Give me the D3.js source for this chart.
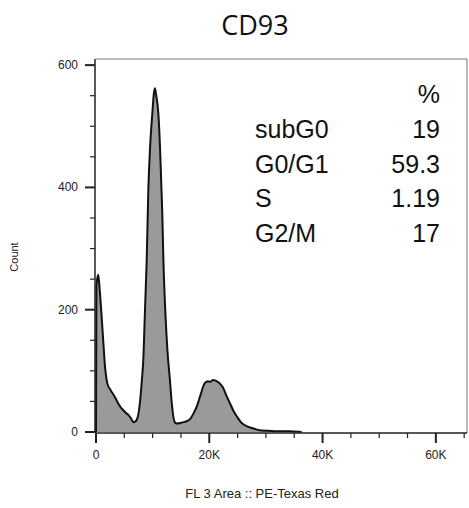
<!DOCTYPE html>
<html>
<head>
<meta charset="utf-8">
<script src="https://cdn.jsdelivr.net/npm/d3@7"></script>
<style>
  body { margin: 0; background: #fff; }
  svg text { font-family: "Liberation Sans", Arial, sans-serif; }
</style>
</head>
<body>
<svg id="chart" width="469" height="508"></svg>
<script>
// histogram, channel in K units / event count
var channel = [0, 0.08, 0.4, 0.7, 1.0, 1.3, 1.6, 1.9, 2.2, 2.5, 2.8, 3.1, 3.4, 3.9, 4.4, 4.8, 5.3, 5.7, 6.2, 6.6, 6.9, 7.2, 7.5, 7.8, 8.1, 8.35, 8.65, 8.95, 9.25, 9.55, 9.95, 10.2, 10.4, 10.6, 11.0, 11.3, 11.5, 11.7, 11.9, 12.2, 12.6, 13.05, 13.4, 13.9, 14.3, 15.0, 15.8, 16.6, 17.2, 17.8, 18.5, 19.2, 19.8, 20.2, 20.65, 21.1, 21.5, 22.0, 22.4, 23.0, 23.65, 24.3, 24.9, 25.6, 26.3, 27.0, 27.5, 28.2, 28.9, 30.5, 32, 34.8, 35.8, 36.3];
var counts = [0, 240, 257, 227, 188, 146, 106, 84, 74, 70, 65, 61, 56, 47, 40, 36, 31, 28, 22, 16, 17, 20, 30, 52, 85, 118, 200, 281, 400, 466, 522, 552, 562, 552, 522, 466, 412, 358, 281, 205, 135, 85, 45, 16, 14, 15, 17, 21, 30, 42, 62, 80, 83, 82, 85, 84, 82, 78, 73, 60, 47, 34, 25, 16, 11, 8, 6.5, 4.5, 3, 2, 1.2, 1, 0.5, 0];

var yMajor = [0, 200, 400, 600];
var xMajor = [0, 20000, 40000, 60000];

var phases = ["subG0", "G0/G1", "S", "G2/M"];
var percents = ["19", "59.3", "1.19", "17"];

var svg = d3.select("#chart");

var x = d3.scaleLinear().domain([0, 65500]).range([96, 467]);
var y = d3.scaleLinear().domain([0, 610]).range([432, 59]);

var pts = channel.map(function(c, i){ return [c * 1000, counts[i]]; });

// frame top/right
svg.append("path")
  .attr("d", "M" + x(0) + "," + y(610) + "H" + x(65500) + "V" + 433)
  .attr("fill", "none")
  .attr("stroke", "#777")
  .attr("stroke-width", 1);

var area = d3.area()
  .x(function(d){ return x(d[0]); })
  .y0(y(0))
  .y1(function(d){ return y(d[1]); })
  .curve(d3.curveMonotoneX);

var line = d3.line()
  .x(function(d){ return x(d[0]); })
  .y(function(d){ return y(d[1]); })
  .curve(d3.curveMonotoneX);

svg.append("path").datum(pts)
  .attr("d", area)
  .attr("fill", "#9a9a9a");

svg.append("path").datum(pts)
  .attr("d", line)
  .attr("fill", "none")
  .attr("stroke", "#111")
  .attr("stroke-width", 2)
  .attr("stroke-linejoin", "round");

// y axis
var yAxis = svg.append("g").attr("transform", "translate(95,0)");
yAxis.append("line").attr("x1", 0).attr("x2", 0).attr("y1", y(610)).attr("y2", 433)
  .attr("stroke", "#222").attr("stroke-width", 1.5);
yAxis.selectAll(".minor").data(d3.range(0, 601, 50)).enter().append("line")
  .attr("x1", function(d){ return yMajor.indexOf(d) >= 0 ? -10 : -5; })
  .attr("x2", 0)
  .attr("y1", function(d){ return y(d); })
  .attr("y2", function(d){ return y(d); })
  .attr("stroke", "#222")
  .attr("stroke-width", function(d){ return yMajor.indexOf(d) >= 0 ? 2 : 1.2; });
yAxis.selectAll(".lbl").data(yMajor).enter().append("text")
  .attr("x", -17)
  .attr("y", function(d){ return y(d) + 4; })
  .attr("text-anchor", "end")
  .attr("font-size", 12)
  .attr("fill", "#222")
  .text(function(d){ return d; });

// x axis
var xAxis = svg.append("g").attr("transform", "translate(0,433)");
xAxis.append("line").attr("x1", 95).attr("x2", x(65500)).attr("y1", 0).attr("y2", 0)
  .attr("stroke", "#222").attr("stroke-width", 1.5);
xAxis.selectAll(".minor").data(d3.range(0, 65001, 5000)).enter().append("line")
  .attr("x1", function(d){ return x(d); })
  .attr("x2", function(d){ return x(d); })
  .attr("y1", 0)
  .attr("y2", function(d){ return xMajor.indexOf(d) >= 0 ? 10 : 5; })
  .attr("stroke", "#222")
  .attr("stroke-width", function(d){ return xMajor.indexOf(d) >= 0 ? 2 : 1.2; });
xAxis.selectAll(".lbl").data(xMajor).enter().append("text")
  .attr("x", function(d){ return x(d); })
  .attr("y", 26)
  .attr("text-anchor", "middle")
  .attr("font-size", 12)
  .attr("fill", "#222")
  .text(function(d){ return d == 0 ? "0" : (d / 1000) + "K"; });

// titles
svg.append("text")
  .attr("x", 255).attr("y", 35)
  .attr("text-anchor", "middle")
  .attr("font-size", 27)
  .style("font-family", "'Open Sans', sans-serif")
  .attr("fill", "#111")
  .text("CD93");

svg.append("text")
  .attr("transform", "translate(18,257) rotate(-90)")
  .attr("text-anchor", "middle")
  .attr("font-size", 11)
  .attr("fill", "#222")
  .text("Count");

svg.append("text")
  .attr("x", 262).attr("y", 498)
  .attr("text-anchor", "middle")
  .attr("font-size", 13)
  .attr("fill", "#222")
  .text("FL 3 Area :: PE-Texas Red");

// stats table
var stats = svg.append("g");
stats.append("text")
  .attr("x", 440).attr("y", 103)
  .attr("text-anchor", "end")
  .attr("font-size", 25)
  .attr("fill", "#111")
  .text("%");
phases.forEach(function(p, i){
  stats.append("text")
    .attr("x", 255).attr("y", 138 + i * 34.5)
    .attr("font-size", 25)
    .attr("fill", "#111")
    .text(p);
  stats.append("text")
    .attr("x", 440).attr("y", 138 + i * 34.5)
    .attr("text-anchor", "end")
    .attr("font-size", 25)
    .attr("fill", "#111")
    .text(percents[i]);
});
</script>
</body>
</html>
